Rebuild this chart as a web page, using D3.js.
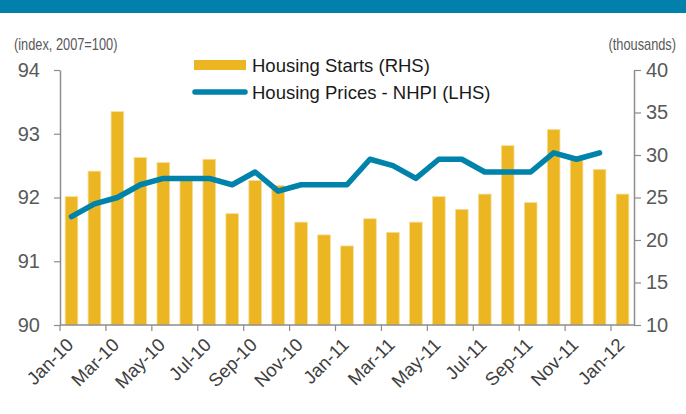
<!DOCTYPE html>
<html><head><meta charset="utf-8">
<script src="https://cdn.jsdelivr.net/npm/d3@7"></script>
<style>
body{margin:0;background:#fff;}
svg{display:block;font-family:"Liberation Sans",Arial,sans-serif;}
</style></head>
<body><svg id="c" width="686" height="414"></svg>
<script>
const months = ["Jan-10","Feb-10","Mar-10","Apr-10","May-10","Jun-10","Jul-10","Aug-10","Sep-10","Oct-10","Nov-10","Dec-10",
"Jan-11","Feb-11","Mar-11","Apr-11","May-11","Jun-11","Jul-11","Aug-11","Sep-11","Oct-11","Nov-11","Dec-11","Jan-12"];
const housingStarts = [25.1,28.1,35.1,29.7,29.1,27.3,29.5,23.1,27.0,26.4,22.1,20.6,19.3,22.5,20.9,22.1,25.1,23.6,25.4,31.1,24.4,33.0,29.5,28.3,25.4];
const nhpi = [91.7,91.9,92.0,92.2,92.3,92.3,92.3,92.2,92.4,92.1,92.2,92.2,92.2,92.6,92.5,92.3,92.6,92.6,92.4,92.4,92.4,92.7,92.6,92.7,null];
const leftTicks = [90,91,92,93,94];
const rightTicks = [10,15,20,25,30,35,40];
const leftTitle = "(index, 2007=100)";
const rightTitle = "(thousands)";
const legendLabels = ["Housing Starts (RHS)","Housing Prices - NHPI (LHS)"];

const svg = d3.select("#c");
const X0 = 60, X1 = 634, Y0 = 325, Y1 = 70;
const axisCol = "#8c8c8c", tickTxt = "#595959";
const barCol = "#EBB622", lineCol = "#0083AB";

// top banner
svg.append("rect").attr("x",0).attr("y",0).attr("width",686).attr("height",13).attr("fill","#0080AB");

const x = d3.scaleBand().domain(months).range([X0, X1]).padding(0);
const yL = d3.scaleLinear().domain([90,94]).range([Y0, Y1]);
const yR = d3.scaleLinear().domain([10,40]).range([Y0, Y1]);
const bw = x.bandwidth()*0.55;

// bars
svg.append("g").selectAll("rect").data(months).join("rect")
  .attr("x", d => x(d) + (x.bandwidth()-bw)/2)
  .attr("width", bw)
  .attr("y", (d,i) => yR(housingStarts[i]))
  .attr("height", (d,i) => Y0 - yR(housingStarts[i]))
  .attr("fill", barCol).attr("stroke","#f6dd98").attr("stroke-width",0.8);

// line
const line = d3.line().defined(d => d.v != null)
  .x(d => x(d.m) + x.bandwidth()/2).y(d => yL(d.v));
svg.append("path").datum(months.map((m,i)=>({m, v:nhpi[i]})))
  .attr("d", line).attr("fill","none").attr("stroke", lineCol)
  .attr("stroke-width",5.5).attr("stroke-linecap","round").attr("stroke-linejoin","round");

// left axis
const gL = svg.append("g").attr("transform",`translate(${X0},0)`)
  .call(d3.axisLeft(yL).tickValues(leftTicks).tickSize(6).tickPadding(14).tickSizeOuter(0).tickFormat(d3.format("d")));
// right axis
const gR = svg.append("g").attr("transform",`translate(${X1},0)`)
  .call(d3.axisRight(yR).tickValues(rightTicks).tickSize(7).tickPadding(5).tickSizeOuter(0).tickFormat(d3.format("d")));
[gL,gR].forEach(g=>{
  g.select(".domain").attr("stroke",axisCol).attr("stroke-width",1.5);
  g.selectAll(".tick line").attr("stroke",axisCol).attr("stroke-width",1.2);
  g.selectAll(".tick text").attr("fill",tickTxt).style("font-size","20px").attr("font-family",'"Liberation Sans",Arial,sans-serif');
});

// bottom axis
svg.append("line").attr("x1",X0).attr("x2",X1).attr("y1",Y0).attr("y2",Y0).attr("stroke",axisCol).attr("stroke-width",1.5);
const tickMonths = months.filter((m,i)=> i%2===0);
svg.append("g").selectAll("line").data(tickMonths).join("line")
  .attr("x1", d=>x(d)).attr("x2", d=>x(d)).attr("y1",Y0).attr("y2",Y0+6)
  .attr("stroke",axisCol).attr("stroke-width",1.2);
svg.append("g").selectAll("text").data(tickMonths).join("text")
  .attr("transform", d => `translate(${x(d)+x.bandwidth()/2+3},${Y0+21}) rotate(-45)`)
  .attr("text-anchor","end").attr("fill","#404040").style("font-size","18.5px").text(d=>d);

// axis titles (narrow)
svg.append("text").attr("transform","translate(14,50) scale(0.8,1)").attr("fill",tickTxt)
  .style("font-size","16px").text(leftTitle);
svg.append("text").attr("transform","translate(676,50) scale(0.8,1)").attr("text-anchor","end").attr("fill",tickTxt)
  .style("font-size","16px").text(rightTitle);

// legend
svg.append("rect").attr("x",194).attr("y",60).attr("width",52).attr("height",10).attr("fill",barCol);
svg.append("text").attr("x",252).attr("y",72).attr("fill","#1a1a1a").style("font-size","18.5px").text(legendLabels[0]);
svg.append("line").attr("x1",195).attr("x2",245).attr("y1",92).attr("y2",92).attr("stroke",lineCol).attr("stroke-width",5.5).attr("stroke-linecap","round");
svg.append("text").attr("x",252).attr("y",99).attr("fill","#1a1a1a").style("font-size","18.5px").text(legendLabels[1]);
</script></body></html>
